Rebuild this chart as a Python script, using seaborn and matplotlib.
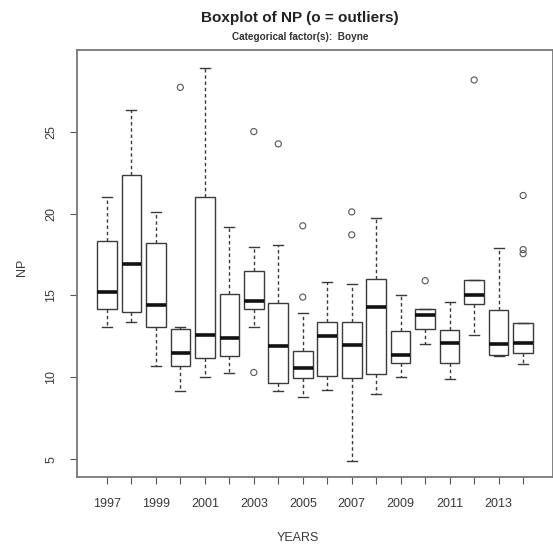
import numpy as np
import pandas as pd
import matplotlib.pyplot as plt
import seaborn as sns

plt.rcParams['font.family'] = ['Liberation Sans', 'DejaVu Sans']

# five-number summaries, one entry per year
years = [str(y) for y in range(1997, 2015)]
lower  = [13.1, 13.4, 10.7, 9.15, 10.0, 10.25, 13.1, 9.15, 8.8, 9.25, 4.9, 9.0, 10.0, 12.05, 9.9, 12.6, 11.3, 10.8]
q1     = [14.15, 14.0, 13.05, 10.7, 11.2, 11.3, 14.15, 9.65, 9.95, 10.1, 9.95, 10.2, 10.85, 12.95, 10.85, 14.45, 11.35, 11.5]
median = [15.2, 16.95, 14.4, 11.5, 12.6, 12.4, 14.65, 11.9, 10.55, 12.55, 11.95, 14.3, 11.35, 13.8, 12.1, 15.0, 12.05, 12.1]
q3     = [18.3, 22.35, 18.2, 12.95, 21.0, 15.1, 16.5, 14.55, 11.6, 13.4, 13.4, 16.0, 12.85, 14.15, 12.9, 15.95, 14.1, 13.3]
upper  = [21.0, 26.3, 20.1, 13.05, 28.9, 19.15, 17.95, 18.05, 13.9, 15.85, 15.7, 19.75, 15.0, 14.15, 14.6, 15.95, 17.9, 13.3]

# outliers (o)
outlier_years = ['2000', '2003', '2003', '2004', '2005', '2005', '2007', '2007', '2010', '2012', '2014', '2014', '2014']
outlier_values = [27.7, 25.0, 10.3, 24.25, 19.25, 14.9, 20.1, 18.7, 15.9, 28.15, 21.1, 17.8, 17.55]

rows = []
for i, yr in enumerate(years):
    for v in (lower[i], q1[i], median[i], q3[i], upper[i]):
        rows.append({'YEARS': yr, 'NP': v})
box_df = pd.DataFrame(rows)
out_df = pd.DataFrame({'YEARS': outlier_years, 'NP': outlier_values})

fig = plt.figure(figsize=(5.53, 5.48), dpi=100)
ax = fig.add_axes([77 / 553, 71 / 548, 476 / 553, 427 / 548])

line_col = '#3a3a3a'
sns.boxplot(data=box_df, x='YEARS', y='NP', order=years, ax=ax,
            width=0.8, whis=(0, 100), color='white', linecolor=line_col,
            linewidth=1.0,
            medianprops={'color': '#111111', 'linewidth': 2.6},
            whiskerprops={'linestyle': (0, (2.5, 2.0)), 'color': line_col},
            capprops={'color': line_col})
sns.stripplot(data=out_df, x='YEARS', y='NP', order=years, ax=ax,
              jitter=False, size=4.4, color='white', edgecolor='#555555',
              linewidth=0.8)
for coll in ax.collections:
    coll.set_facecolor('none')
    coll.set_edgecolor('#555555')

ax.set_xlim(-1.22, 18.22)
ax.set_ylim(3.92, 29.98)
ax.set_xticks(range(len(years)))
ax.set_xticklabels([y if int(y) % 2 == 1 else '' for y in years])
ax.set_yticks([5, 10, 15, 20, 25])
ax.set_yticklabels(['5', '10', '15', '20', '25'], rotation=90, va='center')
ax.tick_params(direction='out', length=5, width=0.8, color='#555555',
               labelsize=9, labelcolor='#3a3a3a')
ax.tick_params(axis='x', pad=10)
ax.tick_params(axis='y', pad=9)
for s in ax.spines.values():
    s.set_color('#777777')
    s.set_linewidth(1.3)

ax.set_xlabel('YEARS', fontsize=9, color='#3a3a3a')
ax.set_ylabel('NP', fontsize=9, color='#3a3a3a')
ax.xaxis.set_label_coords((298 - 77) / 476, (477 - 538) / 427)
ax.xaxis.label.set_va('center')
ax.yaxis.set_label_coords((22 - 77) / 476, (477 - 267) / 427)
ax.yaxis.label.set_va('center')

fig.text(300 / 553, 1 - 18 / 548, 'Boxplot of NP (o = outliers)', ha='center', va='center',
         fontsize=11, fontweight='bold', color='#222222')
fig.text(300 / 553, 1 - 37.5 / 548, 'Categorical factor(s):  Boyne', ha='center', va='center',
         fontsize=7.2, fontweight='bold', color='#333333')

plt.savefig('out.png', dpi=100)
